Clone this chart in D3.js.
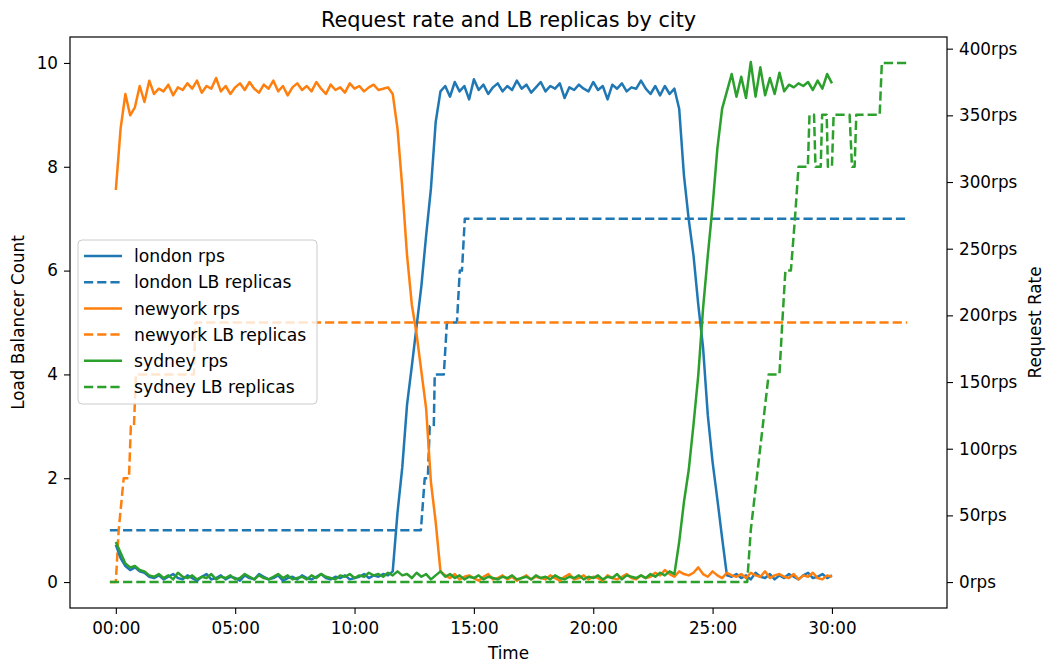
<!DOCTYPE html>
<html>
<head>
<meta charset="utf-8">
<script src="https://cdn.jsdelivr.net/npm/d3@7"></script>
<style>
  body { margin: 0; background: #fff; }
  svg { display: block; }
  text { font-family: "DejaVu Sans", sans-serif; fill: #000; }
</style>
</head>
<body>
<svg id="chart" width="1047" height="664"></svg>
<script>
// Request rate samples, one every 0.2 minutes starting at 00:00 (rows of 2 minutes)
const sampleStepMin = 0.2;

const londonRps = [
  28, 18, 12, 9, 11, 8, 7, 4, 3, 5,
  2, 4, 6, 3, 2, 5, 3, 1, 4, 6,
  2, 3, 5, 2, 4, 3, 1, 5, 3, 2,
  6, 4, 2, 3, 5, 1, 3, 4, 2, 5,
  3, 2, 4, 6, 3, 2, 4, 3, 5, 2,
  3, 4, 6, 3, 5, 4, 6, 5, 8, 52,
  86, 133, 162, 192, 222, 260, 295, 345, 368, 372,
  364, 375, 368, 372, 362, 377, 369, 373, 366, 371,
  374, 368, 372, 369, 376, 370, 373, 367, 371, 375,
  368, 372, 370, 374, 363, 371, 369, 373, 370, 368,
  375, 369, 372, 362, 373, 370, 374, 368, 371, 370,
  376, 370, 366, 372, 365, 372, 366, 370, 355, 305,
  272, 245, 208, 176, 125, 90, 62, 33, 5, 4,
  6, 3, 5, 2, 7, 4, 3, 6, 2, 5,
  3, 6, 4, 2, 5, 7, 3, 4, 6, 3,
  5
];

const newyorkRps = [
  294, 340, 366, 350, 356, 372, 360, 376, 366, 370,
  368, 373, 365, 371, 369, 374, 370, 376, 367, 372,
  370, 378, 368, 372, 366, 371, 374, 369, 375, 370,
  367, 373, 370, 376, 368, 372, 365, 371, 374, 369,
  372, 368, 375, 370, 366, 373, 369, 371, 367, 374,
  370, 372, 368, 371, 373, 369, 370, 371, 366, 340,
  296, 245, 208, 186, 158, 130, 75, 45, 8, 5,
  3, 6, 2, 4, 5, 3, 1, 4, 6, 2,
  3, 5, 2, 4, 1, 3, 5, 2, 4, 3,
  2, 5, 3, 1, 4, 6, 2, 3, 5, 2,
  4, 3, 1, 5, 3, 2, 4, 6, 3, 2,
  5, 3, 4, 7, 5, 9, 6, 4, 8, 6,
  5, 7, 11, 6, 4, 8, 5, 3, 7, 5,
  4, 6, 3, 7, 5, 4, 8, 3, 5, 6,
  4, 3, 6, 2, 5, 4, 7, 3, 2, 5,
  4
];

const sydneyRps = [
  30, 22, 14, 11, 12, 9, 8, 5, 4, 6,
  3, 5, 2, 7, 4, 3, 5, 2, 4, 3,
  6, 2, 4, 3, 5, 2, 3, 6, 4, 2,
  5, 3, 2, 4, 6, 3, 5, 2, 3, 4,
  2, 5, 3, 6, 4, 3, 2, 5, 4, 6,
  3, 5, 4, 7, 5, 6, 4, 7, 5, 8,
  5, 6, 3, 7, 4, 6, 2, 5, 8, 4,
  6, 3, 5, 2, 4, 3, 5, 2, 4, 3,
  2, 4, 3, 5, 2, 3, 4, 2, 5, 3,
  4, 2, 5, 3, 2, 4, 3, 5, 2, 4,
  3, 5, 2, 4, 3, 6, 2, 5, 4, 3,
  5, 3, 6, 4, 7, 5, 8, 6, 30, 60,
  84, 118, 155, 205, 245, 282, 325, 355, 368, 381,
  364, 379, 363, 390, 364, 386, 365, 378, 366, 382,
  368, 373, 371, 374, 372, 375, 369, 376, 370, 381,
  374
];

// Load balancer replica counts as [minute, replicas]
const londonReplicas = [
  [-0.25, 1], [12.78, 1], [12.94, 2], [13.07, 2], [13.15, 3], [13.32, 3],
  [13.36, 4], [13.74, 4], [13.87, 5], [14.29, 5], [14.41, 6], [14.50, 6],
  [14.62, 7], [33.15, 7]
];
const newyorkReplicas = [
  [-0.25, 0], [0.0, 0], [0.12, 1], [0.33, 2], [0.55, 2], [0.63, 3],
  [0.76, 3], [0.84, 4], [3.27, 4], [3.33, 5], [33.15, 5]
];
const sydneyReplicas = [
  [-0.25, 0], [26.45, 0], [26.6, 1], [26.85, 2], [27.1, 3], [27.35, 4],
  [27.8, 4], [27.92, 5], [28.05, 6], [28.28, 6], [28.45, 7], [28.6, 8],
  [28.99, 8], [29.06, 9], [29.25, 9], [29.31, 8], [29.53, 8], [29.59, 9],
  [29.78, 9], [29.83, 8], [30.0, 8], [30.07, 9], [30.74, 9], [30.84, 8],
  [30.95, 8], [31.02, 9], [32.0, 9], [32.09, 10], [33.15, 10]
];

const timeTicks = [0, 5, 10, 15, 20, 25, 30];
const countTicks = [0, 2, 4, 6, 8, 10];
const rateTicks = [0, 50, 100, 150, 200, 250, 300, 350, 400];

const cities = ["london", "newyork", "sydney"];
const cityColors = ["#1f77b4", "#ff7f0e", "#2ca02c"];

// ---- layout ----
const plot = { left: 70, right: 947, top: 37, bottom: 608 };
const tickFont = 16.8;
const legendFont = 17.2;

const svg = d3.select("#chart");
svg.append("rect").attr("width", 1047).attr("height", 664).attr("fill", "#fff");

const x = d3.scaleLinear().domain([-1.92, 34.82]).range([plot.left, plot.right]);
const yCount = d3.scaleLinear().domain([-0.5, 10.5]).range([plot.bottom, plot.top]);
const yRate = d3.scaleLinear().domain([-19.45, 408.75]).range([plot.bottom, plot.top]);

const rpsSeries = [londonRps, newyorkRps, sydneyRps];
const replicaSeries = [londonReplicas, newyorkReplicas, sydneyReplicas];

const rpsLine = d3.line()
  .x((d, i) => x(i * sampleStepMin))
  .y(d => yRate(d));
const replicaLine = d3.line()
  .x(d => x(d[0]))
  .y(d => yCount(d[1]));

const lines = svg.append("g").attr("fill", "none").attr("stroke-width", 2.5)
  .attr("stroke-linejoin", "round");

// replica counts (left axis) underneath
replicaSeries.forEach((s, k) => {
  lines.append("path")
    .attr("d", replicaLine(s))
    .attr("stroke", cityColors[k])
    .attr("stroke-dasharray", "9.2,4");
});
// request rates (right axis) on top
rpsSeries.forEach((s, k) => {
  lines.append("path")
    .attr("d", rpsLine(s))
    .attr("stroke", cityColors[k]);
});

// ---- legend ----
const legendItems = [];
cities.forEach((c, k) => {
  legendItems.push({ label: c + " rps", color: cityColors[k], dashed: false });
  legendItems.push({ label: c + " LB replicas", color: cityColors[k], dashed: true });
});
const legend = svg.append("g");
legend.append("rect")
  .attr("x", 78).attr("y", 240).attr("width", 239).attr("height", 164)
  .attr("rx", 4)
  .attr("fill", "#fff").attr("fill-opacity", 0.8)
  .attr("stroke", "#cccccc").attr("stroke-width", 1);
legendItems.forEach((it, i) => {
  const cy = 256 + i * 26.2;
  legend.append("line")
    .attr("x1", 84).attr("x2", 122).attr("y1", cy).attr("y2", cy)
    .attr("stroke", it.color).attr("stroke-width", 2.5)
    .attr("stroke-dasharray", it.dashed ? "9.2,4" : null);
  legend.append("text")
    .attr("x", 134).attr("y", cy).attr("dy", "0.36em")
    .attr("font-size", legendFont)
    .text(it.label);
});

// ---- frame ----
svg.append("rect")
  .attr("x", plot.left).attr("y", plot.top)
  .attr("width", plot.right - plot.left).attr("height", plot.bottom - plot.top)
  .attr("fill", "none").attr("stroke", "#000").attr("stroke-width", 1.2);

// ---- axes ----
function styleAxis(g) {
  g.select(".domain").remove();
  g.attr("font-family", null).attr("font-size", null);
  g.selectAll(".tick line").attr("stroke", "#000").attr("stroke-width", 1.1);
  g.selectAll(".tick text").attr("font-size", tickFont).attr("fill", "#000");
}

svg.append("g")
  .attr("transform", `translate(0,${plot.bottom})`)
  .call(d3.axisBottom(x).tickValues(timeTicks).tickSize(6).tickPadding(8)
    .tickFormat(d => String(d).padStart(2, "0") + ":00"))
  .call(styleAxis);

svg.append("g")
  .attr("transform", `translate(${plot.left},0)`)
  .call(d3.axisLeft(yCount).tickValues(countTicks).tickSize(6).tickPadding(6)
    .tickFormat(d3.format("d")))
  .call(styleAxis);

svg.append("g")
  .attr("transform", `translate(${plot.right},0)`)
  .call(d3.axisRight(yRate).tickValues(rateTicks).tickSize(6).tickPadding(6)
    .tickFormat(d => d + "rps"))
  .call(styleAxis);

// ---- titles ----
const midX = (plot.left + plot.right) / 2;
const midY = (plot.top + plot.bottom) / 2;
svg.append("text")
  .attr("x", midX).attr("y", 27).attr("text-anchor", "middle")
  .attr("font-size", 20.8).text("Request rate and LB replicas by city");
svg.append("text")
  .attr("x", midX).attr("y", 659).attr("text-anchor", "middle")
  .attr("font-size", tickFont).text("Time");
svg.append("text")
  .attr("transform", `translate(24,${midY}) rotate(-90)`)
  .attr("text-anchor", "middle")
  .attr("font-size", tickFont).text("Load Balancer Count");
svg.append("text")
  .attr("transform", `translate(1041,${midY}) rotate(-90)`)
  .attr("text-anchor", "middle")
  .attr("font-size", tickFont).text("Request Rate");
</script>
</body>
</html>
